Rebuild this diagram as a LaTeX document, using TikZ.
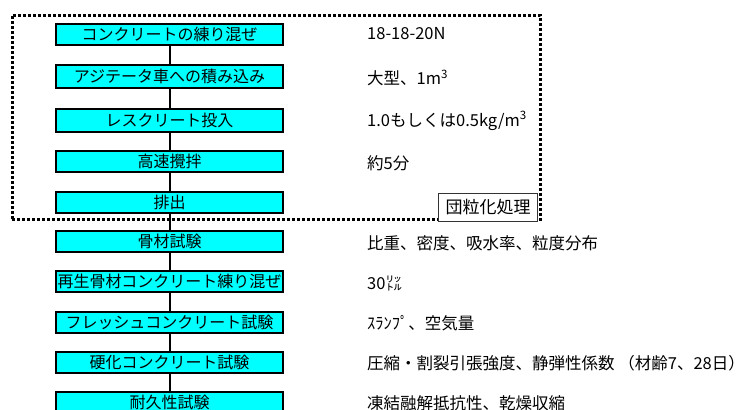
\documentclass[tikz,border=0pt]{standalone}
\usepackage{fontspec}
\newfontfamily\jp{Noto Sans CJK JP}
\definecolor{aqua}{RGB}{0,255,255}
\begin{document}
\begin{tikzpicture}[x=1pt,y=1pt,
  stepbox/.style={draw=black,line width=2pt,fill=aqua,minimum width=227pt,minimum height=21pt,inner sep=0pt,
    font=\jp\fontsize{16}{18}\selectfont},
  note/.style={anchor=west,inner sep=0pt,font=\jp\fontsize{16.5}{19}\selectfont},
  link/.style={line width=2pt,black},
  frame/.style={line width=3pt,dash pattern=on 3pt off 2pt}]
\useasboundingbox (0,0) rectangle (748,-410);
\clip (0,0) rectangle (748,-410);
% dotted frame
\draw[frame] (12,-219) -- (12,-15) -- (540,-15) -- (540,-221);
\draw[frame] (12,-219) -- (439,-219);
\node[draw=black!80,line width=1pt,fill=white,minimum width=99pt,minimum height=28pt,inner sep=0pt,
  font=\jp\fontsize{17}{19}\selectfont] (dan) at (488,-207) {団粒化処理};
% steps
\node[stepbox] (s1) at (169.5,-34) {コンクリートの練り混ぜ};
\node[stepbox,minimum height=23pt] (s2) at (169.5,-76.5) {アジテータ車への積み込み};
\node[stepbox,minimum height=23pt] (s3) at (169.5,-120) {レスクリート投入};
\node[stepbox] (s4) at (169.5,-161.5) {高速攪拌};
\node[stepbox] (s5) at (169.5,-202) {排出};
\node[stepbox] (s6) at (169.5,-241.5) {骨材試験};
\node[stepbox] (s7) at (169.5,-281.5) {再生骨材コンクリート練り混ぜ};
\node[stepbox] (s8) at (169.5,-322) {フレッシュコンクリート試験};
\node[stepbox] (s9) at (169.5,-362) {硬化コンクリート試験};
\node[stepbox] (s10) at (169.5,-402) {耐久性試験};
\foreach \a/\b in {s1/s2,s2/s3,s3/s4,s4/s5,s5/s6,s6/s7,s7/s8,s8/s9,s9/s10}
  \draw[link] (\a.south) -- (\b.north);
% notes
\node[note] (n1) at (367,-34) {18-18-20N};
\node[note] (n2) at (367,-78) {大型、1m\textsuperscript{3}};
\node[note] (n3) at (367,-121) {1.0もしくは0.5kg/m\textsuperscript{3}};
\node[note] (n4) at (367,-163) {約5分};
\node[note] (n6) at (367,-243) {比重、密度、吸水率、粒度分布};
\node[note] (n7) at (367,-283) {30㍑};
\node[note] (n8) at (367,-323) {ｽﾗﾝﾌﾟ、空気量};
\node[note] (n9) at (367,-363) {圧縮・割裂引張強度、静弾性係数 （材齢7、28日）};
\node[note] (n10) at (367,-403) {凍結融解抵抗性、乾燥収縮};
\end{tikzpicture}
\end{document}
